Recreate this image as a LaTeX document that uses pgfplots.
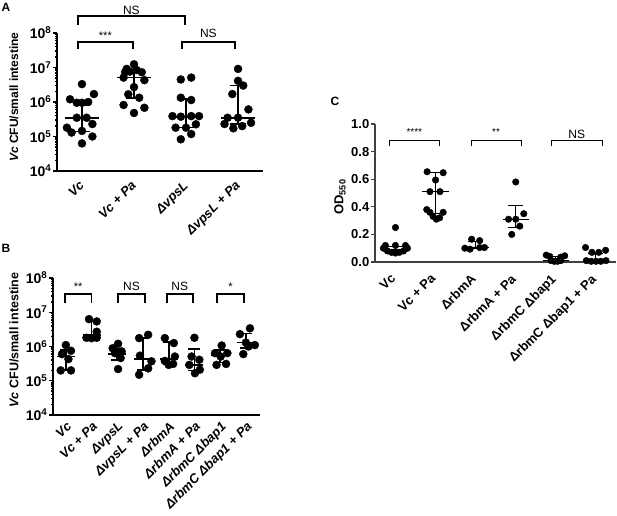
\documentclass[border=0pt]{standalone}
\usepackage{pgfplots}
\pgfplotsset{compat=1.18}
\usepackage{fontspec}
\setmainfont{Liberation Sans}
\newcommand{\fs}[1]{\fontsize{#1}{#1}\selectfont}

\pgfplotsset{
  gp/.style={
    scale only axis, clip=false,
    axis x line*=bottom, axis y line*=left,
    axis line style={line width=1.6pt},
    major x tick style={draw=none},
    y tick style={line width=1.3pt, black},
    tick align=outside,
    major tick length=4pt, minor tick length=2pt,
    yticklabel style={font=\bfseries\fs{14}, inner sep=1.5pt},
    xticklabel style={font=\bfseries\itshape\fs{13}, rotate=45, anchor=north east, inner sep=1pt},
  },
  dots/.style={only marks, mark=*, mark size=4pt, black},
  med/.style 2 args={draw=none, mark=none, forget plot,
    error bars/.cd, x dir=both, x fixed=#1, error mark=none,
    error bar style={draw=black, solid, line width=#2}},
  iqr/.style 2 args={draw=none, mark=none, forget plot,
    error bars/.cd, y dir=both, y explicit,
    error bar style={draw=black, solid, line width=#2},
    error mark options={rotate=90, draw=black, line width=#2, mark size=#1}},
}

\begin{document}
\begin{tikzpicture}
\useasboundingbox (0pt,0pt) rectangle (617pt,-515pt);

% ---------- A ----------
\begin{axis}[gp, at={(57pt,-33pt)}, anchor=north west,
  width=206pt, height=138pt,
  xmin=-0.48, xmax=3.48, ymode=log, ymin=1e4, ymax=1e8,
  xtick={0,1,2,3},
  xticklabels={Vc, Vc + Pa, ΔvpsL, ΔvpsL + Pa},
  xticklabel style={xshift=-5pt},
  ytick={1e4,1e5,1e6,1e7,1e8},
  yticklabels={10\textsuperscript{4},10\textsuperscript{5},10\textsuperscript{6},10\textsuperscript{7},10\textsuperscript{8}},
  minor ytick={2e4,3e4,4e4,5e4,6e4,7e4,8e4,9e4,2e5,3e5,4e5,5e5,6e5,7e5,8e5,9e5,
    2e6,3e6,4e6,5e6,6e6,7e6,8e6,9e6,2e7,3e7,4e7,5e7,6e7,7e7,8e7,9e7}]
\addplot[dots] coordinates {
 (0.00,3.3e6) (0.23,1.7e6) (-0.23,1.2e6) (-0.10,9.5e5) (0.00,9.5e5) (0.12,1.0e6)
 (-0.10,3.5e5) (0.09,3.5e5) (0.20,2.3e5) (-0.29,1.8e5) (-0.20,1.3e5) (0.00,1.45e5)
 (0.20,1.0e5) (0.00,6.3e4)};
\addplot[dots] coordinates {
 (1.00,1.24e7) (0.86,9.1e6) (1.05,8.5e6) (0.83,7.3e6) (0.92,7.6e6) (1.15,7.3e6)
 (0.80,5.1e6) (1.20,4.3e6) (1.00,2.7e6) (0.89,1.67e6) (1.10,1.33e6) (0.80,8.2e5)
 (1.20,6.8e5) (1.00,4.8e5)};
\addplot[dots] coordinates {
 (1.90,4.5e6) (2.10,5.1e6) (1.90,1.33e6) (2.10,1.14e6) (1.74,3.9e5) (1.90,3.75e5)
 (2.10,3.9e5) (2.25,3.9e5) (1.80,1.8e5) (2.00,1.8e5) (2.19,2.26e5) (2.10,1.18e5)
 (1.90,8.3e4)};
\addplot[dots] coordinates {
 (3.00,9.1e6) (3.00,4.1e6) (3.10,3.0e6) (2.89,1.7e6) (3.20,6.1e5) (2.80,3.5e5)
 (3.00,3.5e5) (2.74,2.3e5) (2.91,1.73e5) (3.08,2.0e5) (3.25,2.5e5)};
\addplot[med={0.33}{1.6pt}] coordinates {(0,3.5e5) (1,5.2e6) (2,3.75e5) (3,3.5e5)};
\addplot[iqr={8pt}{1.6pt}] coordinates {
 (0,3.5e5) += (0,4.6e5) -= (0,2.12e5)
 (1,5.2e6) += (0,3.3e6) -= (0,3.87e6)
 (2,3.75e5) += (0,8.45e5) -= (0,1.95e5)
 (3,3.5e5) += (0,2.65e6) -= (0,1.2e5)};
\draw[line width=1.8pt] (axis cs:-0.08,3.4e7) -- (axis cs:-0.08,5.6e7) -- (axis cs:0.98,5.6e7) -- (axis cs:0.98,3.4e7);
\draw[line width=1.8pt] (axis cs:1.92,3.4e7) -- (axis cs:1.92,5.6e7) -- (axis cs:2.94,5.6e7) -- (axis cs:2.94,3.4e7);
\draw[line width=1.8pt] (axis cs:-0.08,1.7e8) -- (axis cs:-0.08,3.1e8) -- (axis cs:1.98,3.1e8) -- (axis cs:1.98,1.7e8);
\node[font=\fs{11}] at (axis cs:0.45,8.5e7) {***};
\node[font=\fs{12}] at (axis cs:2.43,1e8) {NS};
\node[font=\fs{12}] at (axis cs:0.95,4.4e8) {NS};
\end{axis}

% ---------- B ----------
\begin{axis}[gp, at={(53pt,-278pt)}, anchor=north west,
  width=207pt, height=137pt,
  xmin=-0.5, xmax=7.55, ymode=log, ymin=1e4, ymax=1e8,
  xtick={0,...,7},
  xticklabels={Vc, Vc + Pa, ΔvpsL, ΔvpsL + Pa, ΔrbmA, ΔrbmA + Pa, ΔrbmC Δbap1, ΔrbmC Δbap1 + Pa},
  ytick={1e4,1e5,1e6,1e7,1e8},
  yticklabels={10\textsuperscript{4},10\textsuperscript{5},10\textsuperscript{6},10\textsuperscript{7},10\textsuperscript{8}},
  minor ytick={2e4,3e4,4e4,5e4,6e4,7e4,8e4,9e4,2e5,3e5,4e5,5e5,6e5,7e5,8e5,9e5,
    2e6,3e6,4e6,5e6,6e6,7e6,8e6,9e6,2e7,3e7,4e7,5e7,6e7,7e7,8e7,9e7}]
\addplot[dots] coordinates {(0.00,1.1e6) (0.20,7.5e5) (-0.15,6.0e5) (0.10,4.3e5) (-0.20,2.0e5) (0.20,2.0e5)};
\addplot[dots] coordinates {(0.90,6.3e6) (1.20,5.4e6) (1.20,2.7e6) (0.80,1.8e6) (1.00,1.75e6) (1.20,1.8e6)};
\addplot[dots] coordinates {(1.82,8.9e5) (2.03,1.2e6) (2.17,7.2e5) (1.91,6.4e5) (2.13,4.6e5) (2.03,2.2e5)};
\addplot[dots] coordinates {(3.20,2.2e6) (2.85,1.76e6) (2.88,5.4e5) (3.33,3.7e5) (3.20,2.3e5) (2.85,1.5e5)};
\addplot[dots] coordinates {(3.85,1.76e6) (4.20,1.26e6) (3.85,3.8e5) (4.24,5.1e5) (4.00,2.9e5) (4.17,3.1e5)};
\addplot[dots] coordinates {(5.00,1.8e6) (4.89,5.1e5) (5.19,4.1e5) (4.80,2.9e5) (5.21,2.1e5) (5.02,1.66e5)};
\addplot[dots] coordinates {(6.06,1.07e6) (5.80,6.4e5) (6.28,6.4e5) (6.02,5.1e5) (5.86,2.9e5) (6.23,3.1e5)};
\addplot[dots] coordinates {(7.16,3.4e6) (6.77,2.3e6) (7.35,1.1e6) (7.10,1.0e6) (6.90,6.0e5) (7.00,1.3e6)};
\addplot[med={0.35}{1.6pt}] coordinates {(0,5.1e5) (1,2.2e6) (2,6e5) (3,4.3e5) (4,4.4e5) (5,2.9e5) (6,5.4e5) (7,1.3e6)};
\addplot[iqr={6pt}{1.6pt}] coordinates {
 (0,5.1e5) += (0,2.9e5) -= (0,3.0e5)
 (1,2.2e6) += (0,3.2e6) -= (0,4.5e5)
 (2,6e5) += (0,2.4e5) -= (0,1.9e5)
 (3,4.3e5) += (0,1.33e6) -= (0,2.2e5)
 (4,4.4e5) += (0,9.1e5) -= (0,1.4e5)
 (5,2.9e5) += (0,5.6e5) -= (0,0.9e5)
 (6,5.4e5) += (0,2.6e5) -= (0,2.0e5)
 (7,1.3e6) += (0,1.1e6) -= (0,4.1e5)};
\draw[line width=1.8pt] (axis cs:-0.04,1.86e7) -- (axis cs:-0.04,3.4e7) -- (axis cs:1.0,3.4e7) -- (axis cs:1.0,1.86e7);
\draw[line width=1.8pt] (axis cs:2.02,1.86e7) -- (axis cs:2.02,3.4e7) -- (axis cs:3.07,3.4e7) -- (axis cs:3.07,1.86e7);
\draw[line width=1.8pt] (axis cs:3.93,1.86e7) -- (axis cs:3.93,3.4e7) -- (axis cs:4.94,3.4e7) -- (axis cs:4.94,1.86e7);
\draw[line width=1.8pt] (axis cs:5.88,1.86e7) -- (axis cs:5.88,3.4e7) -- (axis cs:6.93,3.4e7) -- (axis cs:6.93,1.86e7);
\node[font=\fs{11}] at (axis cs:0.48,5.6e7) {**};
\node[font=\fs{12}] at (axis cs:2.55,5.6e7) {NS};
\node[font=\fs{12}] at (axis cs:4.43,5.6e7) {NS};
\node[font=\fs{11}] at (axis cs:6.4,5.6e7) {*};
\end{axis}

% ---------- C ----------
\begin{axis}[gp, at={(375pt,-124pt)}, anchor=north west,
  width=241pt, height=138pt,
  axis line style={line width=1.1pt, black!75},
  y tick style={line width=1.1pt, black!75},
  xmin=-0.51, xmax=5.5, ymin=0, ymax=1,
  xtick={0,...,5},
  xticklabels={Vc, Vc + Pa, ΔrbmA, ΔrbmA + Pa, ΔrbmC Δbap1, ΔrbmC Δbap1 + Pa},
  xticklabel style={font=\bfseries\fs{13}, xshift=-8pt},
  yticklabel style={font=\bfseries\fs{13}},
  ytick={0,0.2,0.4,0.6,0.8,1.0},
  yticklabels={0.0,0.2,0.4,0.6,0.8,1.0}]
\addplot[dots, mark size=3.3pt] coordinates {
 (0,0.25) (-0.25,0.12) (0.0,0.12) (0.25,0.12) (-0.3,0.10) (-0.2,0.08) (-0.1,0.07)
 (0,0.065) (0.1,0.07) (0.2,0.08) (0.3,0.10)};
\addplot[dots, mark size=3.3pt] coordinates {
 (0.79,0.654) (1.19,0.647) (1.0,0.594) (0.86,0.51) (1.11,0.51) (0.78,0.38)
 (0.86,0.36) (0.94,0.33) (1.02,0.31) (1.1,0.32) (1.19,0.36)};
\addplot[dots, mark size=3.3pt] coordinates {
 (1.9,0.165) (2.1,0.155) (1.73,0.10) (1.86,0.093) (2.1,0.105) (2.22,0.105)};
\addplot[dots, mark size=3.3pt] coordinates {
 (3.0,0.58) (3.2,0.35) (2.82,0.31) (3.0,0.31) (3.1,0.26) (2.9,0.20)};
\addplot[dots, mark size=3.3pt] coordinates {
 (3.76,0.05) (3.85,0.04) (4.22,0.045) (4.12,0.035) (3.88,0.01) (3.96,0.005) (4.04,0.005) (4.12,0.01)};
\addplot[dots, mark size=3.3pt] coordinates {
 (4.74,0.105) (4.9,0.07) (5.07,0.07) (5.24,0.085) (4.76,0.01) (4.88,0.005) (5.0,0.005) (5.12,0.005) (5.25,0.01)};
\addplot[med={0.33}{1pt}] coordinates {(0,0.09) (1,0.51) (2,0.105) (3,0.31) (4,0.01) (5,0.01)};
\addplot[iqr={7.5pt}{1pt}] coordinates {
 (0,0.09) += (0,0.02) -= (0,0.02)
 (1,0.51) += (0,0.137) -= (0,0.157)
 (2,0.105) += (0,0.042) -= (0,0.01)
 (3,0.31) += (0,0.096) -= (0,0.061)
 (4,0.01) += (0,0.03) -= (0,0.01)
 (5,0.01) += (0,0.05) -= (0,0.01)};
\draw[line width=0.9pt] (axis cs:-0.16,0.843) -- (axis cs:-0.16,0.879) -- (axis cs:1.09,0.879) -- (axis cs:1.09,0.843);
\draw[line width=0.9pt] (axis cs:1.89,0.843) -- (axis cs:1.89,0.879) -- (axis cs:3.13,0.879) -- (axis cs:3.13,0.843);
\draw[line width=0.9pt] (axis cs:3.9,0.843) -- (axis cs:3.9,0.879) -- (axis cs:5.15,0.879) -- (axis cs:5.15,0.843);
\node[font=\fs{10}] at (axis cs:0.47,0.94) {****};
\node[font=\fs{10}] at (axis cs:2.51,0.94) {**};
\node[font=\fs{12}] at (axis cs:4.52,0.925) {NS};
\end{axis}

% ---------- labels ----------
\node[font=\bfseries\fs{12}] at (6pt,-7pt) {A};
\node[font=\bfseries\fs{12}] at (6pt,-248pt) {B};
\node[font=\bfseries\fs{12}] at (335pt,-101pt) {C};
\node[rotate=90, font=\bfseries\fs{12}] at (14pt,-97pt) {\textit{Vc} CFU/small intestine};
\node[rotate=90, font=\bfseries\fs{12.5}] at (14pt,-340pt) {\textit{Vc} CFU/small intestine};
\node[rotate=90, font=\bfseries\fs{13}] at (340pt,-197pt) {OD\textsubscript{550}};
\end{tikzpicture}
\end{document}
